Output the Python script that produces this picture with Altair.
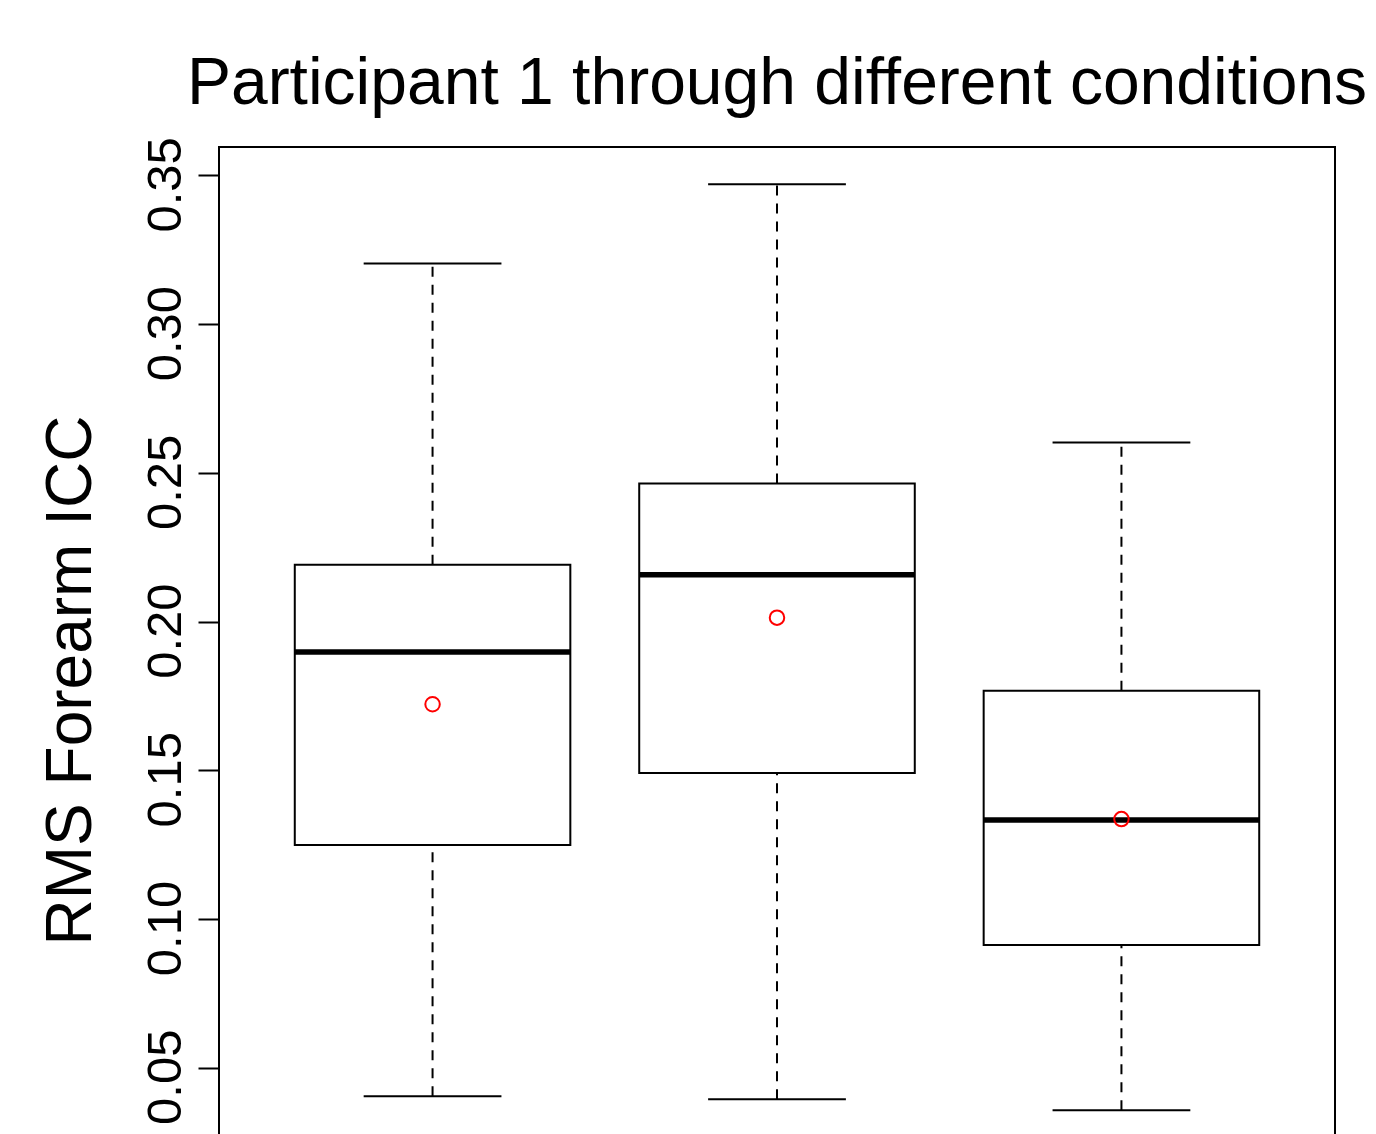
import altair as alt
import pandas as pd

conditions = ["Condition 1", "Condition 2", "Condition 3"]
position = [1, 2, 3]
whisker_low = [0.0404, 0.0394, 0.0357]
q1 = [0.1249, 0.1491, 0.0913]
median = [0.1898, 0.2157, 0.1333]
q3 = [0.2191, 0.2464, 0.1767]
whisker_high = [0.3204, 0.3470, 0.2602]
means = [0.1722, 0.2013, 0.1336]

df = pd.DataFrame({
    "condition": conditions,
    "pos": position,
    "lo": whisker_low,
    "q1": q1,
    "med": median,
    "q3": q3,
    "hi": whisker_high,
    "mean": means,
})

xs = alt.Scale(domain=[0.38, 3.62], nice=False, zero=False)
ys = alt.Scale(domain=[0.02335, 0.35955], nice=False, zero=False)

base = alt.Chart(df).transform_calculate(
    bl="datum.pos - 0.4", br="datum.pos + 0.4",
    cl="datum.pos - 0.2", cr="datum.pos + 0.2",
)

yaxis = alt.Axis(
    values=[0.05, 0.10, 0.15, 0.20, 0.25, 0.30, 0.35],
    format=".2f", labelAngle=270, labelAlign="center", labelBaseline="alphabetic",
    labelFont="Liberation Sans", labelFontSize=49, labelColor="black", labelPadding=18,
    labelOffset=9,
    tickSize=21, tickWidth=2, tickColor="black", domain=False, grid=False,
    title="RMS Forearm ICC", titleFont="Liberation Sans", titleFontSize=64,
    titleFontWeight="normal", titleColor="black", titleAngle=270,
    titleAlign="center", titleBaseline="alphabetic", titleX=-129, titleY=533,
    labelOverlap=False, labelFlush=False,
)

whisk_low = base.mark_rule(color="black", strokeWidth=2, strokeDash=[10, 8]).encode(
    x=alt.X("pos:Q", scale=xs, axis=None),
    y=alt.Y("lo:Q", scale=ys, axis=yaxis),
    y2="q1:Q",
)
whisk_high = base.mark_rule(color="black", strokeWidth=2, strokeDash=[10, 8]).encode(
    x=alt.X("pos:Q", scale=xs, axis=None),
    y=alt.Y("q3:Q", scale=ys),
    y2="hi:Q",
)
cap_low = base.mark_rule(color="black", strokeWidth=2).encode(
    x=alt.X("cl:Q", scale=xs, axis=None), x2="cr:Q",
    y=alt.Y("lo:Q", scale=ys),
)
cap_high = base.mark_rule(color="black", strokeWidth=2).encode(
    x=alt.X("cl:Q", scale=xs, axis=None), x2="cr:Q",
    y=alt.Y("hi:Q", scale=ys),
)
box = base.mark_rect(fill="white", stroke="black", strokeWidth=2).encode(
    x=alt.X("bl:Q", scale=xs, axis=None), x2="br:Q",
    y=alt.Y("q1:Q", scale=ys), y2="q3:Q",
)
med = base.mark_rule(color="black", strokeWidth=5.5).encode(
    x=alt.X("bl:Q", scale=xs, axis=None), x2="br:Q",
    y=alt.Y("med:Q", scale=ys),
)
mean_pt = base.mark_point(shape="circle", color="red", filled=False, size=210, strokeWidth=2, opacity=1).encode(
    x=alt.X("pos:Q", scale=xs, axis=None),
    y=alt.Y("mean:Q", scale=ys),
)

chart = alt.layer(whisk_low, whisk_high, cap_low, cap_high, box, med, mean_pt).properties(
    width=1116, height=1000,
    autosize=alt.AutoSizeParams(type="none"),
    padding={"left": 211, "top": 139, "right": 33, "bottom": 40},
    title=alt.TitleParams(
        "Participant 1 through different conditions",
        font="Liberation Sans", fontSize=66, fontWeight="normal", color="black",
        anchor="middle", baseline="alphabetic", offset=42, dy=75,
    ),
).configure(
    background="white",
    view=alt.ViewConfig(stroke="black", strokeWidth=2),
)

chart.save("out.html", embed_options={"renderer": "svg", "actions": False})
